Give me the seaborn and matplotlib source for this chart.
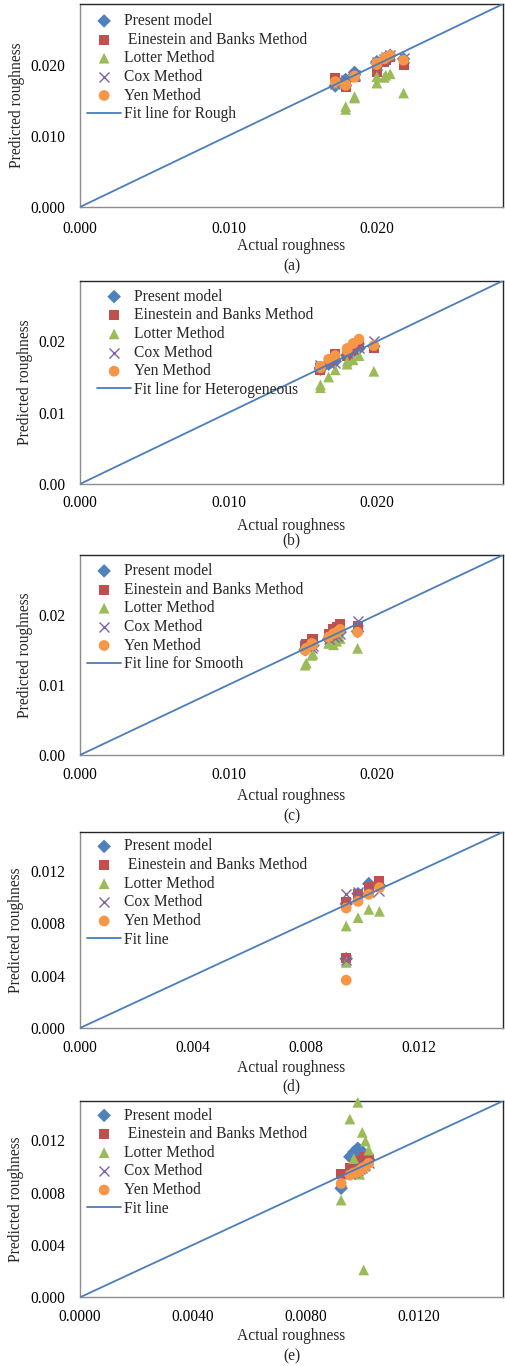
import numpy as np
import pandas as pd
import matplotlib
matplotlib.use("Agg")
import matplotlib.pyplot as plt
import seaborn as sns

sns.set_theme(style="white")
plt.rcParams["font.family"] = ["Liberation Serif", "DejaVu Serif"]

# ---------------- data ----------------
# (a) rough bed
a_actual  = [0.0172, 0.0179, 0.0179, 0.0185, 0.0185, 0.0200, 0.0200, 0.0205, 0.0206, 0.0209, 0.0218]
a_present = [0.0170, 0.0177, 0.0179, 0.0189, 0.0186, 0.0202, 0.0204, 0.0207, 0.0210, 0.0213, 0.0208]
a_einst   = [0.0181, 0.0168, 0.0170, 0.0184, 0.0182, 0.0190, 0.0193, 0.0204, 0.0206, 0.0211, 0.0200]
a_lotter  = [0.0174, 0.0137, 0.0141, 0.0155, 0.0153, 0.0174, 0.0183, 0.0182, 0.0185, 0.0187, 0.0160]
a_cox     = [0.0172, 0.0178, 0.0177, 0.0186, 0.0184, 0.0200, 0.0203, 0.0208, 0.0211, 0.0214, 0.0209]
a_yen     = [0.0176, 0.0171, 0.0172, 0.0184, 0.0182, 0.0200, 0.0202, 0.0208, 0.0210, 0.0213, 0.0206]

# (b) heterogeneous bed
b_actual  = [0.0162, 0.0162, 0.01675, 0.0172, 0.0180, 0.0180, 0.0184, 0.0188, 0.0198]
b_present = [0.0161, 0.0163, 0.0168, 0.0172, 0.0180, 0.0181, 0.0185, 0.0190, 0.0193]
b_einst   = [0.0160, 0.0162, 0.0172, 0.0182, 0.0180, 0.0184, 0.0188, 0.0195, 0.0191]
b_lotter  = [0.0135, 0.0139, 0.0150, 0.0160, 0.0168, 0.0172, 0.0174, 0.0180, 0.0158]
b_cox     = [0.0164, 0.0167, 0.0170, 0.0170, 0.0183, 0.0186, 0.0189, 0.0191, 0.0200]
b_yen     = [0.0165, 0.0163, 0.0175, 0.0180, 0.0187, 0.0190, 0.0197, 0.0203, 0.0194]

# (c) smooth bed
c_actual  = [0.01517, 0.01525, 0.01562, 0.0157, 0.01675, 0.01708, 0.0173, 0.01753, 0.0187]
c_present = [0.0150, 0.0152, 0.0155, 0.0156, 0.0165, 0.0170, 0.0172, 0.0175, 0.0176]
c_einst   = [0.0155, 0.0158, 0.0165, 0.0166, 0.0173, 0.0179, 0.0182, 0.0186, 0.0184]
c_lotter  = [0.0128, 0.0131, 0.0142, 0.0144, 0.0159, 0.0157, 0.0162, 0.0166, 0.0152]
c_cox     = [0.0157, 0.0155, 0.0153, 0.0155, 0.0166, 0.0168, 0.0170, 0.0172, 0.0191]
c_yen     = [0.0149, 0.0152, 0.0159, 0.0157, 0.0168, 0.0173, 0.0175, 0.0179, 0.0175]

# (d)
d_actual  = [0.00944, 0.00944, 0.00986, 0.01024, 0.01062]
d_present = [0.00950, 0.00530, 0.01028, 0.01105, 0.01090]
d_einst   = [0.00964, 0.00532, 0.01023, 0.01079, 0.01122]
d_lotter  = [0.00781, 0.00502, 0.00845, 0.00908, 0.00893]
d_cox     = [0.01023, 0.00520, 0.01040, 0.01040, 0.01048]
d_yen     = [0.00918, 0.00366, 0.00969, 0.01023, 0.01074]

# (e)
e_actual  = [0.00926, 0.00957, 0.00971, 0.00985, 0.00992, 0.01001, 0.01006, 0.01012, 0.01024]
e_present = [0.00833, 0.01074, 0.01110, 0.01138, 0.01125, 0.01112, 0.01090, 0.01060, 0.01050]
e_einst   = [0.00940, 0.00990, 0.01010, 0.01040, 0.01030, 0.01050, 0.01060, 0.01070, 0.01060]
e_lotter  = [0.00743, 0.01362, 0.01060, 0.01490, 0.00940, 0.01260, 0.00209, 0.01194, 0.01125]
e_cox     = [0.00890, 0.00940, 0.00960, 0.00970, 0.00980, 0.00990, 0.01000, 0.01010, 0.01030]
e_yen     = [0.00870, 0.00934, 0.00950, 0.00960, 0.00970, 0.00985, 0.00990, 0.01000, 0.01024]

# perfect-agreement fit lines (y = x)
fit_wide   = [0.0, 0.0285]
fit_narrow = [0.0, 0.0150]

ticks_wide_x = [0.000, 0.010, 0.020]
ticks_narrow = [0.000, 0.004, 0.008, 0.012]

series_names = ["Present model", "Einestein and Banks Method", "Lotter Method",
                "Cox Method", "Yen Method"]

# ---------------- styling ----------------
C_BLUE, C_RED, C_GREEN, C_PURPLE, C_ORANGE = "#4F81BD", "#C0504D", "#9BBB59", "#8064A2", "#F79646"
LINE = "#4A7EBB"
styles = [
    dict(marker="D", color=C_BLUE, s=48, edgecolor="none"),
    dict(marker="s", color=C_RED, s=52, edgecolor="none"),
    dict(marker="^", color=C_GREEN, s=60, edgecolor="none"),
    dict(marker="x", color=C_PURPLE, s=52, linewidth=1.0),
    dict(marker="o", color=C_ORANGE, s=60, edgecolor="none"),
]

W, H = 506, 1366
fig = plt.figure(figsize=(W / 100, H / 100), dpi=100)

panels = [
    dict(top=4, bot=207, x=a_actual, ys=[a_present, a_einst, a_lotter, a_cox, a_yen],
         fit=fit_wide, lim=0.0285, xt=ticks_wide_x, xf="{:.3f}", yt=ticks_wide_x, yf="{:.3f}",
         fitlab="Fit line for Rough", lead=" ", cap="(a)", capy=266, xly=246, yl=17, lgx=87, tpad=10, lgy=9),
    dict(top=280.7, bot=484, x=b_actual, ys=[b_present, b_einst, b_lotter, b_cox, b_yen],
         fit=fit_wide, lim=0.0285, xt=ticks_wide_x, xf="{:.3f}", yt=ticks_wide_x, yf="{:.2f}",
         fitlab="Fit line for Heterogeneous", lead="", cap="(b)", capy=540.7, xly=525.5, yl=25, lgx=97, tpad=8, lgy=8),
    dict(top=555, bot=755, x=c_actual, ys=[c_present, c_einst, c_lotter, c_cox, c_yen],
         fit=fit_wide, lim=0.0285, xt=ticks_wide_x, xf="{:.3f}", yt=ticks_wide_x, yf="{:.2f}",
         fitlab="Fit line for Smooth", lead="", cap="(c)", capy=816.7, xly=796, yl=25, lgx=87, tpad=8.5, lgy=8),
    dict(top=832, bot=1028, x=d_actual, ys=[d_present, d_einst, d_lotter, d_cox, d_yen],
         fit=fit_narrow, lim=0.0150, xt=ticks_narrow, xf="{:.3f}", yt=ticks_narrow, yf="{:.3f}",
         fitlab="Fit line", lead=" ", cap="(d)", capy=1086.7, xly=1067.5, yl=16, lgx=87, tpad=8.5, lgy=6.5),
    dict(top=1101, bot=1297.3, x=e_actual, ys=[e_present, e_einst, e_lotter, e_cox, e_yen],
         fit=fit_narrow, lim=0.0150, xt=ticks_narrow, xf="{:.4f}", yt=ticks_narrow, yf="{:.3f}",
         fitlab="Fit line", lead=" ", cap="(e)", capy=1356.7, xly=1336.5, yl=16, lgx=87, tpad=8.5, lgy=6.5),
]

AX_L, AX_R = 80, 503
FS = 11.2

for p in panels:
    ax = fig.add_axes([AX_L / W, 1 - p["bot"] / H, (AX_R - AX_L) / W, (p["bot"] - p["top"]) / H])
    for name, yv, st in zip(series_names, p["ys"], styles):
        label = (p["lead"] + name) if name.startswith("Einestein") else name
        df = pd.DataFrame({"actual": p["x"], "predicted": yv})
        sns.scatterplot(data=df, x="actual", y="predicted", ax=ax, label=label, zorder=3,
                        clip_on=False, **st)
    fdf = pd.DataFrame({"actual": p["fit"], "predicted": p["fit"]})
    sns.lineplot(data=fdf, x="actual", y="predicted", ax=ax, color=LINE, linewidth=1.3,
                 label=p["fitlab"], zorder=4)

    ax.set_xlim(0, p["lim"])
    ax.set_ylim(0, p["lim"])
    ax.set_xticks(p["xt"])
    ax.set_xticklabels([p["xf"].format(v) for v in p["xt"]], fontsize=FS)
    ax.set_yticks(p["yt"])
    ax.set_yticklabels([p["yf"].format(v) for v in p["yt"]], fontsize=FS)
    ax.tick_params(axis="both", length=0, colors="black")
    ax.tick_params(axis="x", pad=p["tpad"])
    ax.tick_params(axis="y", pad=10.5)

    for side in ["top", "right"]:
        ax.spines[side].set_color("#262626")
        ax.spines[side].set_linewidth(1.0)
    for side in ["left", "bottom"]:
        ax.spines[side].set_color("#8C8C8C")
        ax.spines[side].set_linewidth(1.0)

    hpx = p["bot"] - p["top"]
    ax.set_xlabel("Actual roughness", fontsize=FS)
    ax.xaxis.label.set_va("center")
    ax.xaxis.set_label_coords(0.5, -(p["xly"] - p["bot"]) / hpx)
    ax.set_ylabel("Predicted roughness", fontsize=FS)
    ax.yaxis.label.set_va("center")
    ax.yaxis.set_label_coords((p["yl"] - AX_L) / (AX_R - AX_L), 0.5)

    handles, labels = ax.get_legend_handles_labels()
    ax.legend(handles, labels, loc="upper left",
              bbox_to_anchor=((p["lgx"] - AX_L) / (AX_R - AX_L), 1 - p["lgy"] / hpx),
              frameon=False, fontsize=FS, borderpad=0, borderaxespad=0,
              handlelength=2.2, handletextpad=0.15, labelspacing=0.17, markerscale=1.0)

    fig.text((AX_L + AX_R) / 2 / W, 1 - p["capy"] / H, p["cap"], ha="center", va="center", fontsize=FS)

fig.savefig("out.png", dpi=100)
